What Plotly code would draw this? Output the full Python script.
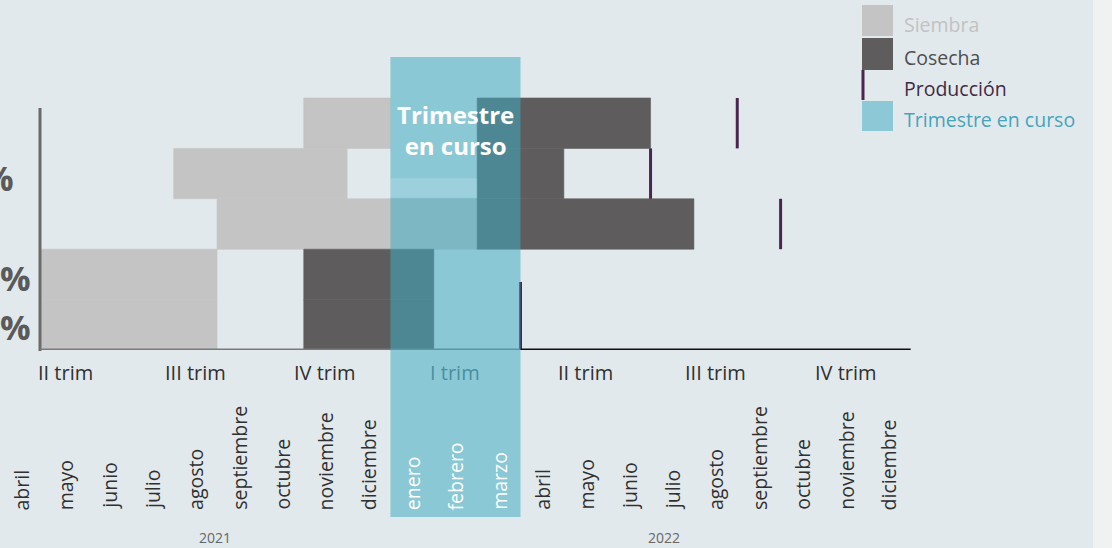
import plotly.graph_objects as go

# calendario de siembra / cosecha, meses desde abril 2021 (0) a diciembre 2022 (20)
meses = ["abril", "mayo", "junio", "julio", "agosto", "septiembre", "octubre",
         "noviembre", "diciembre", "enero", "febrero", "marzo",
         "abril", "mayo", "junio", "julio", "agosto", "septiembre", "octubre",
         "noviembre", "diciembre"]
trimestres = ["II trim", "III trim", "IV trim", "I trim", "II trim", "III trim", "IV trim"]
anios = ["2021", "2022"]

# filas de arriba hacia abajo
filas = ["fila 1", "fila 2", "fila 3", "fila 4", "fila 5"]
siembra_ini = [7, 4, 5, 0, 0]
siembra_fin = [9, 8, 11, 5, 5]
cosecha_ini = [11, 11, 11, 7, 7]
cosecha_fin = [15, 13, 16, 10, 10]

# marcas de producción (mes, tramo vertical en unidades de fila)
produccion_mes = [17, 15, 18, 12]
produccion_y0 = [4, 3, 2, 0]
produccion_y1 = [5, 4, 3, 1.35]

# trimestre en curso: enero-marzo 2022
curso_ini, curso_fin = 9, 12

W, H = 1112, 548
L, B = 40, 198
PW, PH = W - L, H - B
X0 = (L - 0.3) / 43.35
X1 = X0 + PW / 43.35
Y1 = PH / 50.4

BG = "#e2e9ec"
GRIS = "#c4c4c4"
OSCURO = "#5e5c5c"
MORADO = "#4b2552"
CIAN = "rgba(65,171,195,0.54)"
FONT = "Open Sans"


def px(x):
    return (x - L) / PW


def py(y):
    return (PH - y) / PH


def dx(v):
    # posición de datos -> fracción de papel
    return (v - X0) / (X1 - X0)


ypos = [len(filas) - i - 0.5 for i in range(len(filas))]

fig = go.Figure()
fig.add_trace(go.Bar(y=ypos, base=siembra_ini,
                     x=[f - s for s, f in zip(siembra_ini, siembra_fin)],
                     orientation="h", width=1,
                     marker=dict(color=GRIS, line=dict(color=GRIS, width=0.6)),
                     name="Siembra", hoverinfo="skip"))
fig.add_trace(go.Bar(y=ypos, base=cosecha_ini,
                     x=[f - s for s, f in zip(cosecha_ini, cosecha_fin)],
                     orientation="h", width=1,
                     marker=dict(color=OSCURO, line=dict(color=OSCURO, width=0.6)),
                     name="Cosecha", hoverinfo="skip"))

px_x, px_y = [], []
for m, a, b in zip(produccion_mes, produccion_y0, produccion_y1):
    px_x += [m, m, None]
    px_y += [a, b, None]
fig.add_trace(go.Scatter(x=px_x, y=px_y, mode="lines", line=dict(color=MORADO, width=3),
                         name="Producción", hoverinfo="skip"))

shapes = [
    # franja clara a la derecha
    dict(type="rect", xref="paper", yref="paper", x0=px(1093), x1=1.02, y0=-0.6, y1=1.05,
         fillcolor="#f0f1f1", line_width=0, layer="below"),
    # ejes
    dict(type="line", xref="paper", yref="paper", x0=0, x1=0, y0=py(351), y1=py(108),
         line=dict(color="#6b6b6b", width=3)),
    dict(type="line", xref="x", yref="y", x0=X0, x1=12, y0=0, y1=0,
         line=dict(color="#7a7a7a", width=3)),
    dict(type="line", xref="x", yref="y", x0=12, x1=21, y0=0, y1=0,
         line=dict(color="#111111", width=3)),
    # trimestre en curso
    dict(type="rect", xref="x", yref="paper", x0=curso_ini, x1=curso_fin,
         y0=py(517), y1=py(57), fillcolor=CIAN, line_width=0),
    dict(type="rect", xref="x", yref="y", x0=curso_ini, x1=11, y0=3.02, y1=3.41,
         fillcolor="rgba(255,255,255,0.15)", line_width=0),
]

ann = []
for i, m in enumerate(meses):
    dentro = curso_ini <= i < curso_fin
    ann.append(dict(x=dx(i + 0.5), y=py(512), xref="paper", yref="paper", text=m,
                    textangle=-90, showarrow=False, xanchor="center", yanchor="bottom",
                    font=dict(family=FONT, size=19.5, color="white" if dentro else "#303030")))
for k, t in enumerate(trimestres):
    c = 3 * k + 1.5
    ann.append(dict(x=dx(c), y=py(372), xref="paper", yref="paper", text=t, showarrow=False,
                    xanchor="center", yanchor="middle",
                    font=dict(family=FONT, size=20,
                              color="#4a8f9f" if k == 3 else "#303030")))
ann.append(dict(x=dx((X0 + 9) / 2), y=py(537), xref="paper", yref="paper", text=anios[0],
                showarrow=False, xanchor="center", yanchor="middle",
                font=dict(family=FONT, size=14, color="#666666")))
ann.append(dict(x=dx(15.3), y=py(537), xref="paper", yref="paper", text=anios[1],
                showarrow=False, xanchor="center", yanchor="middle",
                font=dict(family=FONT, size=14, color="#666666")))

ann.append(dict(x=dx((curso_ini + curso_fin) / 2), y=py(130), xref="paper", yref="paper",
                text="<b>Trimestre<br>en curso</b>", showarrow=False,
                xanchor="center", yanchor="middle",
                font=dict(family=FONT, size=24, color="white")))

# porcentajes recortados en el borde
for x_px, y_px in [(16, 178), (33, 278), (33, 327)]:
    ann.append(dict(x=px(x_px), y=py(y_px), xref="paper", yref="paper", text="<b>%</b>",
                    showarrow=False, xanchor="right", yanchor="middle",
                    font=dict(family=FONT, size=34, color="#5a5a5a")))

# leyenda
ley = [("Siembra", GRIS, "#c2c2c2", 5, 36),
       ("Cosecha", OSCURO, "#4e4e4e", 38, 70),
       ("Producción", None, "#3f2a45", 70, 100),
       ("Trimestre en curso", "#8cc8d6", "#45a5bd", 101, 131)]
for txt, col, tcol, a, b in ley:
    if col:
        shapes.append(dict(type="rect", xref="paper", yref="paper", x0=px(862), x1=px(893),
                           y0=py(b), y1=py(a), fillcolor=col, line_width=0))
    else:
        shapes.append(dict(type="line", xref="paper", yref="paper", x0=px(863), x1=px(863),
                           y0=py(b), y1=py(a), line=dict(color=MORADO, width=3)))
    ann.append(dict(x=px(902), y=py((a + b) / 2 + 3.5), xref="paper", yref="paper", text=txt,
                    showarrow=False, xanchor="left", yanchor="middle",
                    font=dict(family=FONT, size=19.5, color=tcol)))

fig.update_xaxes(range=[X0, X1], visible=False, fixedrange=True)
fig.update_yaxes(range=[0, Y1], visible=False, fixedrange=True)
fig.update_layout(width=W, height=H, margin=dict(l=L, r=0, t=0, b=B),
                  paper_bgcolor=BG, plot_bgcolor=BG, barmode="overlay",
                  showlegend=False, shapes=shapes, annotations=ann)

fig.write_html("out.html", config={"displayModeBar": False},
               post_script="document.body.style.margin='0';")
